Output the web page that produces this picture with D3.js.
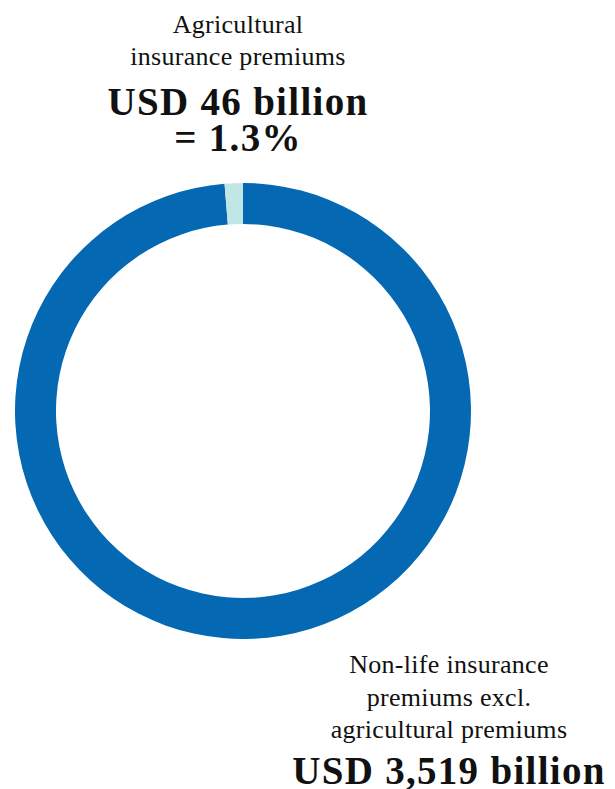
<!DOCTYPE html>
<html>
<head>
<meta charset="utf-8">
<script src="https://cdn.jsdelivr.net/npm/d3@7"></script>
<style>
  body { margin: 0; background: #fff; }
  text { font-family: "Liberation Serif", "DejaVu Serif", serif; fill: #111; }
</style>
</head>
<body>
<div id="vis"></div>
<script>
const width = 615, height = 789

// data
const categories = ['Non-life insurance premiums excl. agricultural premiums', 'Agricultural insurance premiums']
const values = [3519, 46]
const colors = ['#0568b3', '#c0e6e5']

// labels
const topLines = ['Agricultural', 'insurance premiums']
const topBig = ['USD 46 billion', '= 1.3%']
const bottomLines = ['Non-life insurance', 'premiums excl.', 'agricultural premiums']
const bottomBig = ['USD 3,519 billion']

const cx = 243, cy = 411
const outerR = 228, innerR = 187

const svg = d3.select('#vis')
  .append('svg')
  .attr('width', width)
  .attr('height', height)

const pie = d3.pie().sort(null).value(d => d)
const arc = d3.arc().innerRadius(innerR).outerRadius(outerR)

svg.append('g')
  .attr('transform', `translate(${cx},${cy})`)
  .selectAll('path')
  .data(pie(values))
  .join('path')
  .attr('d', arc)
  .attr('fill', (d, i) => colors[i])

// small text 26px, big text 39px bold
function label(g, lines, x, y0, step, big) {
  g.selectAll(big ? '.big' : '.small')
    .data(lines)
    .join('text')
    .attr('class', big ? 'big' : 'small')
    .attr('x', x)
    .attr('y', (d, i) => y0 + i * step)
    .style('font-size', big ? '39px' : '26px')
    .style('font-weight', big ? 'bold' : 'normal')
    .style('letter-spacing', big ? '1.3px' : '0.3px')
    .text(d => d)
}

const topLabel = svg.append('g').attr('text-anchor', 'middle')
label(topLabel, topLines, 238, 33, 31.5, false)
label(topLabel, topBig, 238, 115, 36, true)

const botLabel = svg.append('g').attr('text-anchor', 'middle')
label(botLabel, bottomLines, 449, 673, 32.5, false)
label(botLabel, bottomBig, 449, 784, 0, true)
</script>
</body>
</html>
